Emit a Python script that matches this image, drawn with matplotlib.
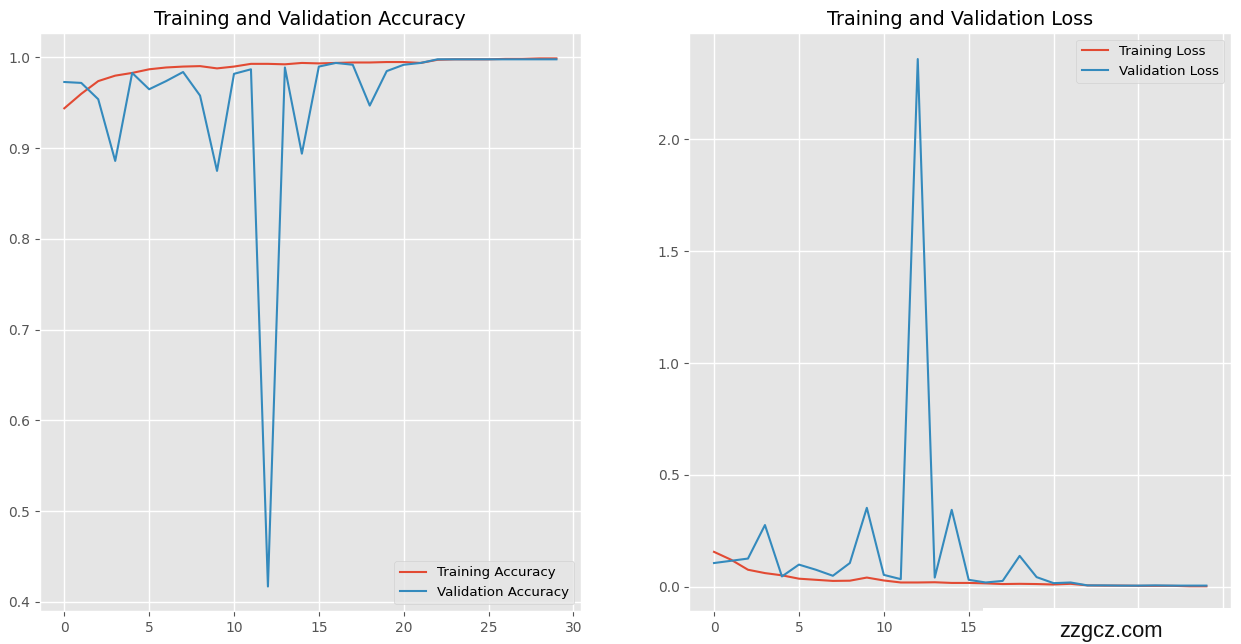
import matplotlib
matplotlib.use("Agg")
import matplotlib.pyplot as plt
from matplotlib.patches import Rectangle

epochs = list(range(30))
train_acc = [.944, .960, .974, .980, .983, .987, .989, .990, .9905, .988,
             .990, .993, .993, .9925, .994, .9935, .994, .9945, .9945, .995,
             .995, .994, .9975, .998, .998, .998, .9985, .9985, .999, .999]
val_acc = [.973, .972, .954, .886, .983, .965, .974, .984, .958, .875,
           .982, .987, .417, .989, .894, .990, .994, .992, .947, .985,
           .992, .994, .998, .998, .998, .998, .998, .998, .998, .998]
train_loss = [.155, .12, .075, .06, .05, .035, .03, .025, .026, .04,
              .027, .018, .018, .019, .016, .016, .014, .011, .012, .011,
              .009, .012, .005, .004, .004, .003, .003, .003, .001, .001]
val_loss = [.105, .115, .125, .275, .045, .098, .075, .048, .105, .352,
            .052, .033, 2.36, .04, .343, .03, .018, .025, .137, .042,
            .015, .018, .005, .005, .004, .004, .005, .004, .004, .004]
loss_xticks = [0, 5, 10, 15, 20, 25, 30]
loss_xticklabels = ["0", "5", "10", "15", "", "", ""]
acc_title = "Training and Validation Accuracy"
loss_title = "Training and Validation Loss"
watermark = "zzgcz.com"

W, H = 1241, 644
plt.style.use("ggplot")
plt.rcParams["font.family"] = ["DejaVu Sans"]
plt.rcParams["axes.titlesize"] = 13.8
plt.rcParams["legend.fontsize"] = 9.6
plt.rcParams["grid.linewidth"] = 1.0
fig = plt.figure(figsize=(W / 100, H / 100), dpi=100)

def place(x0, x1, y0, y1):
    return fig.add_axes([x0 / W, 1 - y1 / H, (x1 - x0) / W, (y1 - y0) / H])

ax1 = place(39.7, 581, 33, 611)
ax1.plot(epochs, train_acc, label="Training Accuracy")
ax1.plot(epochs, val_acc, label="Validation Accuracy")
ax1.set_ylim(0.39, 1.027)
ax1.legend(loc="lower right")
ax1.set_title(acc_title)

ax2 = place(689.4, 1231, 33, 611)
ax2.plot(epochs, train_loss, label="Training Loss")
ax2.plot(epochs, val_loss, label="Validation Loss")
ax2.set_ylim(-0.1096, 2.4765)
ax2.set_xticks(loss_xticks, loss_xticklabels)
ax2.set_xlim(-1.45, 30.45)
ax2.legend(loc="upper right")
ax2.set_title(loss_title)

fig.add_artist(Rectangle((983 / W, 0), (W - 983) / W, (H - 608) / H,
                         transform=fig.transFigure, facecolor="white",
                         edgecolor="none", zorder=10))
fig.text(1110.5 / W, 1 - 631 / H, watermark, family="Liberation Sans", fontsize=15.8,
         color="#111111", ha="center", va="center", zorder=11)
fig.savefig("out.png", dpi=100)
